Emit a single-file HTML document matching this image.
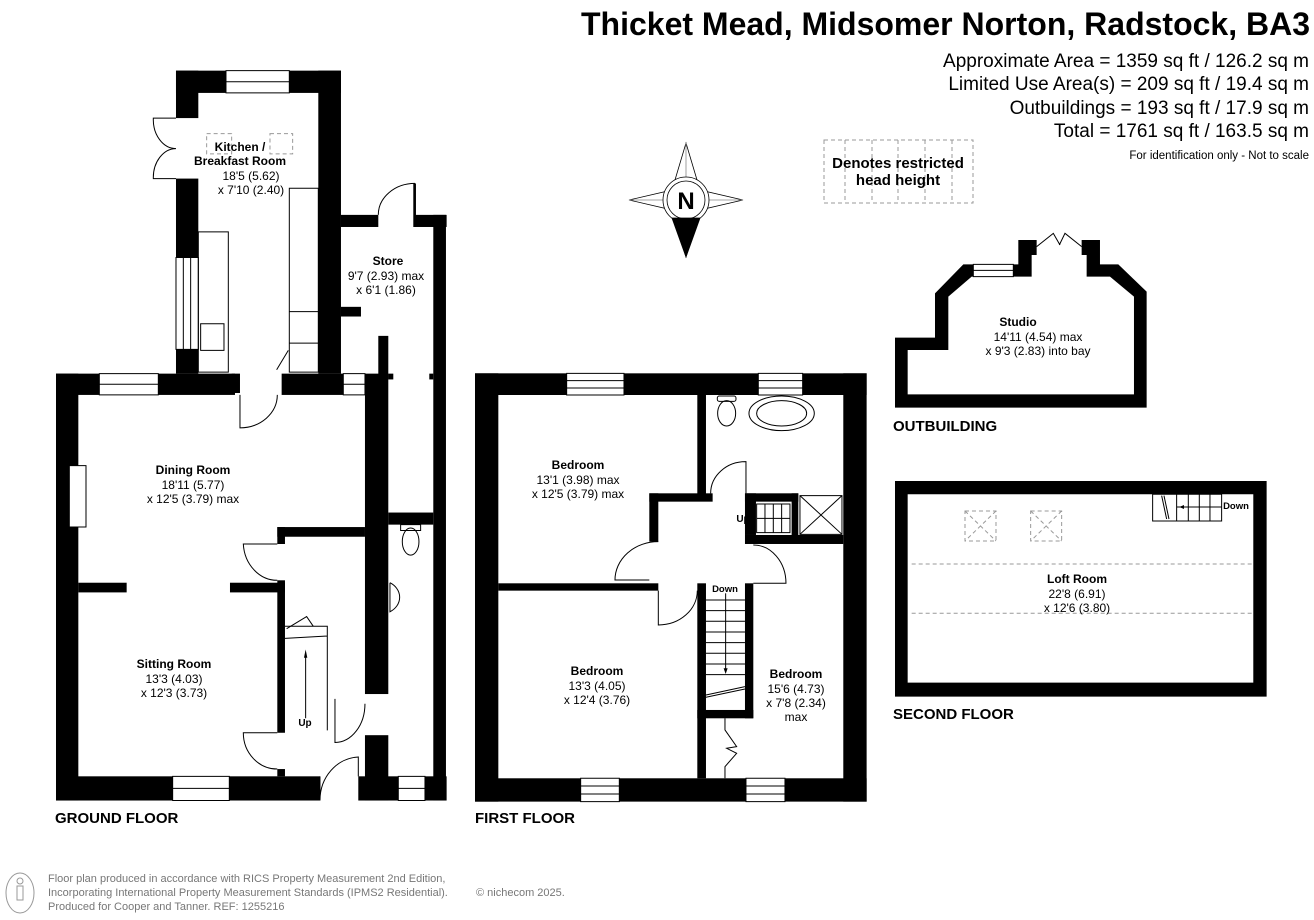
<!DOCTYPE html>
<html><head><meta charset="utf-8"><style>
html,body{margin:0;padding:0;background:#fff;}
svg{display:block;font-family:"Liberation Sans",Arial,sans-serif;}
.w{fill:#000}
.win{fill:#fff;stroke:#000;stroke-width:1;vector-effect:non-scaling-stroke}
.ln{fill:none;stroke:#000;stroke-width:1;vector-effect:non-scaling-stroke}
.dl{fill:none;stroke:#999;stroke-width:1;stroke-dasharray:4 3;vector-effect:non-scaling-stroke}
.rn{font-weight:bold;font-size:12px}
.rd{font-size:12px}
.fl{font-weight:bold;font-size:15px}
</style></head><body>
<svg width="1314" height="920" viewBox="0 0 1314 920" xmlns="http://www.w3.org/2000/svg">
<rect width="1314" height="920" fill="#fff"/>

<!-- Title -->
<text x="1310" y="35" text-anchor="end" font-weight="bold" font-size="32">Thicket Mead, Midsomer Norton, Radstock, BA3</text>
<g font-size="19" text-anchor="end">
<text x="1309" y="67">Approximate Area = 1359 sq ft / 126.2 sq m</text>
<text x="1309" y="90">Limited Use Area(s) = 209 sq ft / 19.4 sq m</text>
<text x="1309" y="114">Outbuildings = 193 sq ft / 17.9 sq m</text>
<text x="1309" y="137">Total = 1761 sq ft / 163.5 sq m</text>
</g>
<text x="1309" y="159" text-anchor="end" font-size="11.5">For identification only - Not to scale</text>

<!-- Compass -->
<g stroke="#000" stroke-width="0.8" fill="none">
<path d="M686,143 L700,190 L743,200 L700,210 L686,257 L672,210 L629,200 L672,190 Z" fill="#fff"/>
<line x1="686" y1="143" x2="686" y2="257" stroke="#888"/>
<line x1="629" y1="200" x2="743" y2="200" stroke="#888"/>
<circle cx="686" cy="200" r="23" fill="#fff"/>
<circle cx="686" cy="200" r="19"/>
<path d="M672,218 L700,218 L686,257 Z" fill="#000"/>
</g>
<text x="686" y="209" text-anchor="middle" font-weight="bold" font-size="24">N</text>

<!-- Legend -->
<g class="dl" stroke="#aaa">
<rect x="824" y="140" width="149" height="63"/>
<line x1="845" y1="140" x2="845" y2="203"/><line x1="872" y1="140" x2="872" y2="203"/>
<line x1="898" y1="140" x2="898" y2="203"/><line x1="925" y1="140" x2="925" y2="203"/>
<line x1="952" y1="140" x2="952" y2="203"/>
</g>
<text x="898" y="168" text-anchor="middle" font-weight="bold" font-size="15">Denotes restricted</text>
<text x="898" y="185" text-anchor="middle" font-weight="bold" font-size="15">head height</text>

<!-- GROUND FLOOR -->
<g transform="translate(40,60) scale(0.3333,0.4840)">
<rect class="w" x="408" y="22" width="495" height="46"/>
<rect class="w" x="408" y="22" width="67" height="98"/>
<rect class="w" x="408" y="245" width="67" height="163"/>
<rect class="w" x="408" y="598" width="67" height="50"/>
<rect class="w" x="835" y="22" width="68" height="626"/>
<rect class="w" x="48" y="648" width="537" height="44"/>
<rect class="w" x="575" y="648" width="25" height="40"/>
<rect class="w" x="725" y="648" width="250" height="44"/>
<rect class="w" x="975" y="648" width="70" height="662"/>
<rect class="w" x="903" y="320" width="112" height="25"/>
<rect class="w" x="1125" y="320" width="95" height="25"/>
<rect class="w" x="1120" y="255" width="8" height="90"/>
<rect class="w" x="1180" y="320" width="38" height="1210"/>
<rect class="w" x="903" y="510" width="60" height="20"/>
<rect class="w" x="1015" y="570" width="30" height="90"/>
<rect class="w" x="1045" y="935" width="135" height="25"/>
<rect class="w" x="1045" y="648" width="15" height="12"/>
<rect class="w" x="1168" y="648" width="12" height="12"/>
<rect class="w" x="48" y="648" width="67" height="882"/>
<rect class="w" x="48" y="1480" width="792" height="50"/>
<rect class="w" x="955" y="1480" width="265" height="50"/>
<rect class="w" x="975" y="1395" width="70" height="135"/>
<rect class="w" x="712" y="965" width="263" height="20"/>
<rect class="w" x="712" y="965" width="23" height="35"/>
<rect class="w" x="712" y="1075" width="23" height="315"/>
<rect class="w" x="712" y="1465" width="23" height="15"/>
<rect class="w" x="115" y="1080" width="145" height="20"/>
<rect class="w" x="570" y="1080" width="165" height="20"/>
<rect class="win" x="88" y="838" width="50" height="127"/>
<rect class="win" x="178" y="648" width="177" height="44"/><line class="ln" x1="178" y1="670" x2="355" y2="670"/>
<rect class="win" x="558" y="22" width="190" height="46"/><line class="ln" x1="558" y1="45" x2="748" y2="45"/>
<rect class="win" x="910" y="648" width="65" height="44"/><line class="ln" x1="910" y1="670" x2="975" y2="670"/>
<rect class="win" x="398" y="1480" width="170" height="50"/><line class="ln" x1="398" y1="1505" x2="568" y2="1505"/>
<rect class="win" x="1075" y="1480" width="80" height="50"/><line class="ln" x1="1075" y1="1505" x2="1155" y2="1505"/>
<rect class="win" x="408" y="408" width="67" height="190"/><line class="ln" x1="430" y1="408" x2="430" y2="598"/><line class="ln" x1="452" y1="408" x2="452" y2="598"/>
<!-- kitchen fittings -->
<rect class="ln" x="748" y="265" width="87" height="380"/>
<line class="ln" x1="748" y1="520" x2="835" y2="520"/><line class="ln" x1="748" y1="585" x2="835" y2="585"/>
<rect class="ln" x="475" y="355" width="90" height="290"/>
<rect class="ln" x="482" y="545" width="70" height="55"/>
<rect class="dl" x="500" y="152" width="75" height="42"/><rect class="dl" x="690" y="152" width="68" height="42"/>
<!-- doors -->
<path class="ln" d="M408,120 L340,120 A68,60 0 0 0 408,183 M408,245 L340,245 A68,60 0 0 1 408,183"/>
<path class="ln" d="M600,692 L600,760 A112,68 0 0 0 712,692"/>
<path class="ln" d="M1015,320 A110,65 0 0 1 1125,255"/>
<path class="ln" d="M710,640 L745,600"/>
<path class="ln" d="M712,1000 L610,1000 A102,80 0 0 0 712,1075"/>
<path class="ln" d="M712,1390 L610,1390 A102,75 0 0 0 712,1465"/>
<path class="ln" d="M885,1320 L885,1410 A90,80 0 0 0 975,1330"/>
<path class="ln" d="M840,1480 L840,1530 A120,90 0 0 1 955,1440 L955,1480"/>
<!-- stairs -->
<path class="ln" d="M735,1170 L862,1170 L862,1385 M735,1195 L862,1190"/>
<path class="ln" d="M740,1175 L800,1150 L820,1170"/>
<line class="ln" x1="797" y1="1225" x2="797" y2="1360"/>
<path class="w" d="M797,1218 L792,1235 L802,1235 Z"/>
<!-- WC -->
<ellipse class="ln" cx="1112" cy="995" rx="25" ry="28"/><rect class="ln" x="1082" y="960" width="60" height="12"/>
<path class="ln" d="M1050,1080 L1050,1140 A60,35 0 0 0 1050,1080"/>
</g>
<text x="240" y="151" text-anchor="middle" class="rn">Kitchen /</text>
<text x="240" y="165" text-anchor="middle" class="rn">Breakfast Room</text>
<text x="251" y="180" text-anchor="middle" class="rd">18'5 (5.62)</text>
<text x="251" y="194" text-anchor="middle" class="rd">x 7'10 (2.40)</text>
<text x="388" y="265" text-anchor="middle" class="rn">Store</text>
<text x="386" y="280" text-anchor="middle" class="rd">9'7 (2.93) max</text>
<text x="386" y="294" text-anchor="middle" class="rd">x 6'1 (1.86)</text>
<text x="193" y="474" text-anchor="middle" class="rn">Dining Room</text>
<text x="193" y="489" text-anchor="middle" class="rd">18'11 (5.77)</text>
<text x="193" y="503" text-anchor="middle" class="rd">x 12'5 (3.79) max</text>
<text x="174" y="668" text-anchor="middle" class="rn">Sitting Room</text>
<text x="174" y="683" text-anchor="middle" class="rd">13'3 (4.03)</text>
<text x="174" y="697" text-anchor="middle" class="rd">x 12'3 (3.73)</text>
<text x="305" y="726" text-anchor="middle" font-weight="bold" font-size="10">Up</text>
<text x="55" y="823" class="fl">GROUND FLOOR</text>

<!-- FIRST FLOOR -->
<g transform="translate(460,360) scale(0.3333)">
<rect class="w" x="45" y="40" width="1175" height="65"/>
<rect class="w" x="45" y="1255" width="1175" height="70"/>
<rect class="w" x="45" y="40" width="70" height="1285"/>
<rect class="w" x="1150" y="40" width="70" height="1285"/>
<rect class="w" x="712" y="105" width="26" height="300"/>
<rect class="w" x="568" y="400" width="190" height="25"/>
<rect class="w" x="855" y="400" width="160" height="25"/>
<rect class="w" x="855" y="400" width="33" height="125"/>
<rect class="w" x="995" y="400" width="20" height="150"/>
<rect class="w" x="855" y="525" width="295" height="27"/>
<rect class="w" x="568" y="400" width="27" height="145"/>
<rect class="w" x="115" y="670" width="480" height="22"/>
<rect class="w" x="712" y="670" width="26" height="585"/>
<rect class="w" x="855" y="670" width="25" height="405"/>
<rect class="w" x="712" y="1050" width="168" height="25"/>
<rect class="win" x="320" y="40" width="172" height="65"/><line class="ln" x1="320" y1="62" x2="492" y2="62"/><line class="ln" x1="320" y1="84" x2="492" y2="84"/>
<rect class="win" x="895" y="40" width="133" height="65"/><line class="ln" x1="895" y1="62" x2="1028" y2="62"/><line class="ln" x1="895" y1="84" x2="1028" y2="84"/>
<rect class="win" x="362" y="1255" width="116" height="70"/><line class="ln" x1="362" y1="1278" x2="478" y2="1278"/><line class="ln" x1="362" y1="1302" x2="478" y2="1302"/>
<rect class="win" x="858" y="1255" width="117" height="70"/><line class="ln" x1="858" y1="1278" x2="975" y2="1278"/><line class="ln" x1="858" y1="1302" x2="975" y2="1302"/>
<ellipse class="ln" cx="800" cy="160" rx="27" ry="38"/><rect class="ln" x="772" y="108" width="56" height="16" rx="6"/>
<ellipse class="ln" cx="965" cy="160" rx="98" ry="52"/><ellipse class="ln" cx="965" cy="160" rx="75" ry="38"/>
<rect class="ln" x="1020" y="407" width="126" height="116"/><path class="ln" d="M1020,407 L1146,523 M1146,407 L1020,523"/>
<rect class="ln" x="890" y="432" width="100" height="86"/><path class="ln" d="M915,432 L915,518 M940,432 L940,518 M965,432 L965,518 M890,475 L990,475"/>
<path class="ln" d="M858,400 L858,305 A105,95 0 0 0 752,400"/>
<path class="ln" d="M595,545 A130,115 0 0 0 465,660 L568,660"/>
<path class="ln" d="M880,555 A98,115 0 0 1 978,670 L880,670"/>
<path class="ln" d="M595,692 L595,795 A117,103 0 0 0 712,692"/>
<path class="ln" d="M738,720 L855,720 M738,752 L855,752 M738,784 L855,784 M738,816 L855,816 M738,848 L855,848 M738,880 L855,880 M738,912 L855,912 M738,944 L855,944 M738,1005 L855,980 M738,1012 L855,987"/>
<line class="ln" x1="797" y1="700" x2="797" y2="930"/><path class="w" d="M797,942 L791,925 L803,925 Z"/>
<path class="ln" d="M795,1075 L795,1110 L830,1160 L800,1165 L830,1180 L795,1220 L795,1255"/>
</g>
<text x="578" y="469" text-anchor="middle" class="rn">Bedroom</text>
<text x="578" y="484" text-anchor="middle" class="rd">13'1 (3.98) max</text>
<text x="578" y="498" text-anchor="middle" class="rd">x 12'5 (3.79) max</text>
<text x="597" y="675" text-anchor="middle" class="rn">Bedroom</text>
<text x="597" y="690" text-anchor="middle" class="rd">13'3 (4.05)</text>
<text x="597" y="704" text-anchor="middle" class="rd">x 12'4 (3.76)</text>
<text x="796" y="678" text-anchor="middle" class="rn">Bedroom</text>
<text x="796" y="693" text-anchor="middle" class="rd">15'6 (4.73)</text>
<text x="796" y="707" text-anchor="middle" class="rd">x 7'8 (2.34)</text>
<text x="796" y="721" text-anchor="middle" class="rd">max</text>
<text x="743" y="522" text-anchor="middle" font-weight="bold" font-size="10">Up</text>
<text x="725" y="592" text-anchor="middle" font-weight="bold" font-size="9.5">Down</text>
<text x="475" y="823" class="fl">FIRST FLOOR</text>

<!-- OUTBUILDING -->
<g transform="translate(880,225) scale(0.3333)">
<path fill="#000" fill-rule="evenodd" d="M45,338 L165,338 L165,205 L250,118 L415,118 L415,45 L660,45 L660,118 L715,118 L800,200 L800,548 L45,548 Z M83,375 L205,375 L205,215 L275,155 L455,155 L455,90 L620,90 L620,155 L690,155 L762,215 L762,508 L83,508 Z"/>
<rect fill="#fff" x="470" y="30" width="135" height="62"/>
<rect class="win" x="280" y="118" width="120" height="37"/><line class="ln" x1="280" y1="136" x2="400" y2="136"/>
<path class="ln" d="M470,65 L520,25 L540,60 M605,65 L555,25 L538,60"/>
</g>
<text x="1018" y="326" text-anchor="middle" class="rn">Studio</text>
<text x="1038" y="341" text-anchor="middle" class="rd">14'11 (4.54) max</text>
<text x="1038" y="355" text-anchor="middle" class="rd">x 9'3 (2.83) into bay</text>
<text x="893" y="431" class="fl">OUTBUILDING</text>

<!-- SECOND FLOOR -->
<g transform="translate(880,225) scale(0.3333)">
<path fill="#000" fill-rule="evenodd" d="M45,768 L1160,768 L1160,1415 L45,1415 Z M83,808 L1120,808 L1120,1373 L83,1373 Z"/>
<rect class="ln" x="818" y="808" width="207" height="80"/>
<path class="ln" d="M890,808 L890,888 M925,808 L925,888 M958,808 L958,888 M990,808 L990,888 M890,846 L1025,846 M845,812 L860,882 M852,812 L867,882"/>
<path class="w" d="M898,846 L912,840 L912,852 Z"/>
<rect class="dl" x="255" y="858" width="93" height="90"/><path class="dl" d="M255,858 L348,948 M348,858 L255,948"/>
<rect class="dl" x="452" y="858" width="93" height="90"/><path class="dl" d="M452,858 L545,948 M545,858 L452,948"/>
<line class="dl" x1="95" y1="1017" x2="1120" y2="1017"/>
<line class="dl" x1="95" y1="1165" x2="1120" y2="1165"/>
</g>
<text x="1236" y="509" text-anchor="middle" font-weight="bold" font-size="9.5">Down</text>
<text x="1077" y="583" text-anchor="middle" class="rn">Loft Room</text>
<text x="1077" y="598" text-anchor="middle" class="rd">22'8 (6.91)</text>
<text x="1077" y="612" text-anchor="middle" class="rd">x 12'6 (3.80)</text>
<text x="893" y="719" class="fl">SECOND FLOOR</text>

<!-- Footer -->
<g fill="#777" font-size="11">
<ellipse cx="20" cy="893" rx="14" ry="20" fill="none" stroke="#999"/>
<circle cx="20" cy="881" r="3" fill="none" stroke="#999"/>
<rect x="17" y="886" width="6" height="14" fill="none" stroke="#999"/>
<text x="48" y="882">Floor plan produced in accordance with RICS Property Measurement 2nd Edition,</text>
<text x="48" y="896">Incorporating International Property Measurement Standards (IPMS2 Residential).</text>
<text x="476" y="896">© nichecom 2025.</text>
<text x="48" y="910">Produced for Cooper and Tanner.   REF: 1255216</text>
</g>
</svg>
</body></html>
